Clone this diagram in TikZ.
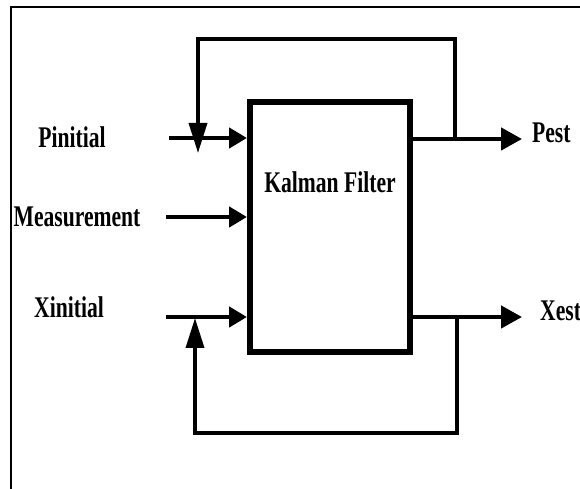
\documentclass[tikz,border=0pt]{standalone}
\usepackage{fontspec}
\newfontfamily\lblfont[FakeStretch=0.72]{Liberation Serif}
\usepackage{tikz}
\usetikzlibrary{
    arrows.meta,
    positioning,
    calc
}

\begin{document}
\begin{tikzpicture}[
    x=1pt, y=1pt,
    >={Triangle[length=18pt, width=20pt]},
    lbl/.style={inner sep=0pt, font=\lblfont\bfseries\fontsize{30}{30}\selectfont},
    kfbox/.style={draw=black, line width=6pt, minimum width=160pt, minimum height=250pt, inner sep=0pt},
    sig/.style={draw=black, line width=4.5pt, ->},
    outsig/.style={sig, -{Triangle[length=21pt, width=22pt]}},
    fb/.style={draw=black, line width=3.5pt, -{Triangle[length=30pt, width=18pt]}}
]

% ==================== FRAME ====================
\path[use as bounding box, clip] (0,0) rectangle (580,489);
\fill[white] (0,0) rectangle (580,489);
\draw[line width=2pt] (11,-20) rectangle (620,482);

% ==================== FILTER BLOCK ====================
\node[kfbox] (kf) at (330,262) {};
\node[lbl] (kftext) at ([yshift=-83pt]kf.north) {Kalman Filter};

% ==================== INPUTS ====================
\node[lbl] (pinit) at (72,352) {Pinitial};
\node[lbl] (meas) at (77,272) {Measurement};
\node[lbl] (xinit) at (69,182) {Xinitial};

\coordinate (pin) at (169,351);
\coordinate (min) at (166,272);
\coordinate (xin) at (166,172);

\draw[sig] (pin) -- (pin -| kf.west);
\draw[sig] (min) -- (min -| kf.west);
\draw[sig] (xin) -- (xin -| kf.west);

% ==================== OUTPUTS ====================
\coordinate (pestend) at (522,350);
\coordinate (xestend) at (522,172);
\node[lbl, anchor=west] (pest) at (532,356) {Pest};
\node[lbl, anchor=west] (xest) at (540,178) {Xest};

\draw[outsig] (kf.east |- pestend) -- (pestend);
\draw[outsig] (kf.east |- xestend) -- (xestend);

% ==================== FEEDBACK LOOPS ====================
\coordinate (tapP) at (455,350);
\coordinate (topP) at (198,450);
\coordinate (tipP) at (198,336);
\coordinate (tapX) at (457,172);
\coordinate (botX) at (195,56);
\coordinate (tipX) at (195,171);

\draw[fb] (tapP) |- (topP) -- (tipP);
\draw[fb] (tapX) |- (botX) -- (tipX);

\end{tikzpicture}
\end{document}
